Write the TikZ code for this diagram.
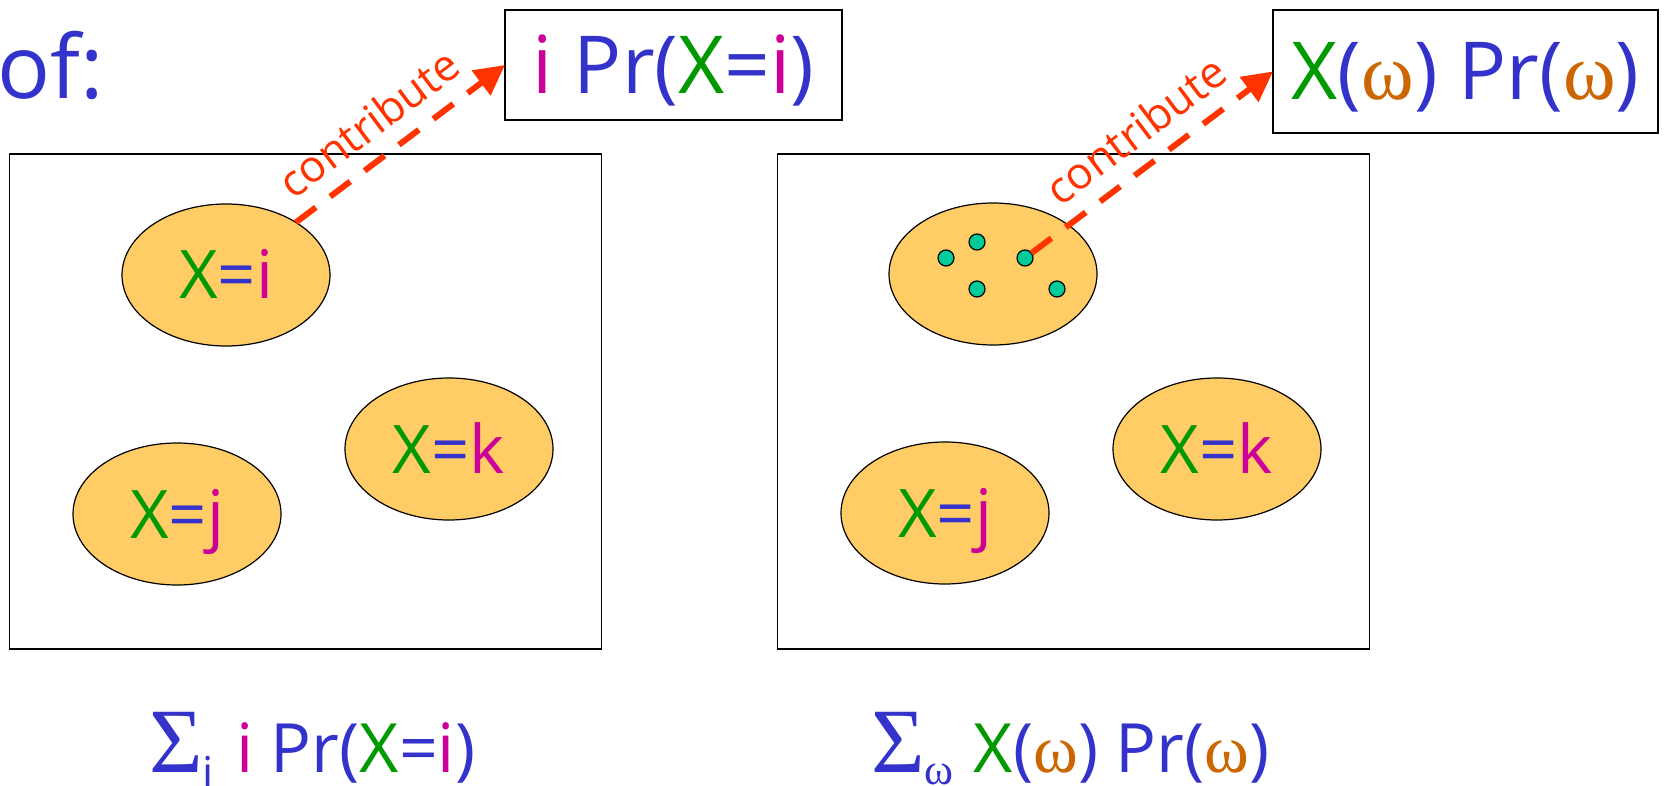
\documentclass[tikz,border=0pt]{standalone}
\usepackage{fontspec}
\setmainfont{Open Sans}
\newfontfamily\grkfont{Liberation Serif}
\usetikzlibrary{arrows.meta, positioning, shapes.geometric}
\definecolor{txtblue}{HTML}{3333CC}
\definecolor{xgreen}{HTML}{009900}
\definecolor{valmag}{HTML}{CC0099}
\definecolor{omorange}{HTML}{CC6600}
\definecolor{evfill}{HTML}{FFCC66}
\definecolor{outdot}{HTML}{00CC99}
\definecolor{contred}{HTML}{FF3300}
\newcommand{\grn}[1]{\textcolor{xgreen}{#1}}
\newcommand{\valm}[1]{\textcolor{valmag}{#1}}
\newcommand{\omg}{\textcolor{omorange}{\grkfont ω}}

\begin{document}
\begin{tikzpicture}[
  x=0.5pt, y=-0.5pt,
  space/.style={rectangle, draw=black, line width=0.8pt, minimum width=296pt,
                minimum height=247.5pt, inner sep=0pt},
  event/.style={ellipse, draw=black, line width=0.6pt, fill=evfill,
                minimum width=104pt, minimum height=71pt, inner sep=0pt, outer sep=0pt,
                font=\fontsize{33.5}{34}\selectfont\color{txtblue},
                text height=24pt, text depth=0pt},
  outcome/.style={circle, draw=black, line width=0.6pt, fill=outdot,
                  minimum size=8pt, inner sep=0pt, outer sep=0pt},
  term/.style={rectangle, draw=black, line width=0.8pt, inner sep=0pt, outer sep=0pt,
               font=\fontsize{40}{41}\selectfont\color{txtblue},
               text height=28.5pt, text depth=0pt},
  sumtext/.style={anchor=base west, inner sep=0pt,
                  font=\fontsize{34}{36}\selectfont\color{txtblue}},
  contrib/.style={draw=contred, line width=3pt, dash pattern=on 12.5pt off 9pt,
                  -{Triangle[length=15pt, width=15pt]}},
  lbl/.style={sloped, above, inner sep=8pt, text=contred,
              font=\fontsize{22}{23}\selectfont}
]
  \useasboundingbox (0,0) rectangle (1664,786);

  \node[anchor=base west, inner sep=0pt, font=\fontsize{44}{44}\selectfont\color{txtblue}] (ofword) at (-3,99) {of:};

  \node[term, minimum width=168.5pt, minimum height=55pt] (toppr) at (673.5,65) {\valm{i} Pr(\grn{X}=\valm{i})};
  \node[term, minimum width=192.5pt, minimum height=61.5pt] (topxw) at (1465.5,71.5) {\grn{X}(\omg) Pr(\omg)};

  \node[space] (leftspace) at (305.5,401.5) {};
  \node[space] (rightspace) at (1073.5,401.5) {};

  \node[event] (xi) at (226,275) {\grn{X}=\valm{i}};
  \node[event] (xj) at (177,514) {\grn{X}=\valm{j}};
  \node[event] (xk) at (449,449) {\grn{X}=\valm{k}};

  \node[event] (wi) at (993,274) {};
  \node[event] (wj) at (945,513) {\grn{X}=\valm{j}};
  \node[event] (wk) at (1217,449) {\grn{X}=\valm{k}};
  \foreach \p [count=\n] in {(946,258),(977,242),(1025,258),(977,289),(1057,289)}
    \node[outcome] (w\n) at \p {};

  \draw[contrib] (xi) -- node[lbl, pos=0.45] {contribute} (toppr.west);
  \draw[contrib] (w3) -- node[lbl, pos=0.52] {contribute} (topxw.west);

  \node[sumtext] (sumi) at (149,772) {{\grkfont\fontsize{46}{46}\selectfont Σ}\raisebox{-8pt}{\fontsize{22}{22}\selectfont i}\hspace{11pt}\valm{i} Pr(\grn{X}=\valm{i})};
  \node[sumtext] (sumw) at (871,772) {{\grkfont\fontsize{46}{46}\selectfont Σ}\raisebox{-6pt}{\grkfont\fontsize{22}{22}\selectfont ω}\hspace{10pt}\grn{X}(\omg) Pr(\omg)};
\end{tikzpicture}
\end{document}
